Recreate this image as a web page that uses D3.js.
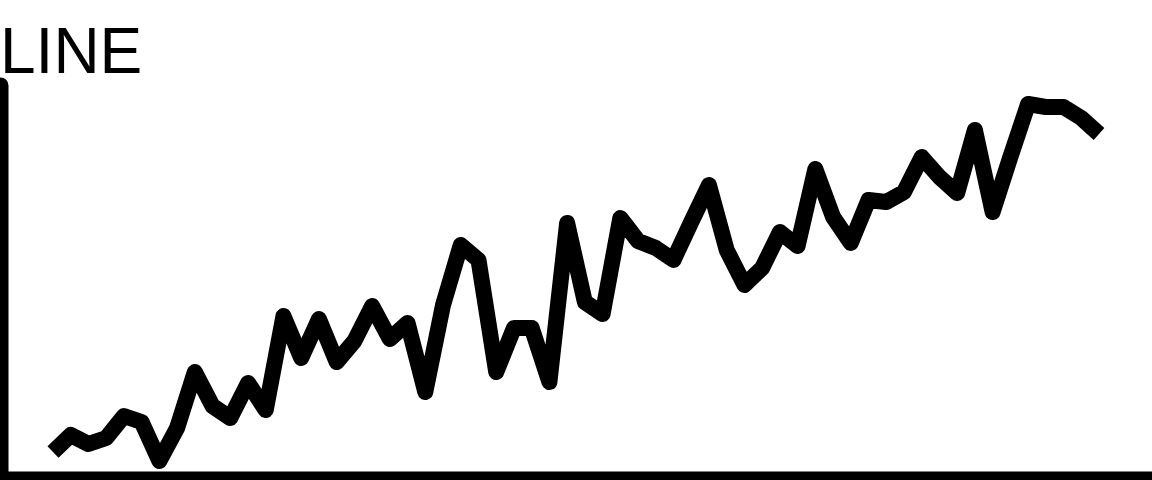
<!DOCTYPE html>
<html>
<head>
<meta charset="utf-8">
<script src="https://cdn.jsdelivr.net/npm/d3@7"></script>
<style>
  html, body { margin: 0; padding: 0; background: #fff; overflow: hidden; }
  svg { display: block; }
</style>
</head>
<body>
<svg id="chart" width="1152" height="480"></svg>
<script>
const title = "LINE";
const categories = d3.range(1, 61);
const values = [
  5, 9.25, 7, 8.5, 14, 12.5, 2.75, 11, 25, 16.5,
  13.5, 22.25, 15.5, 39, 28.5, 38.25, 27.5, 32.75, 41.5, 33.25,
  37.25, 20, 41.75, 56.75, 53, 25, 36, 36, 22.5, 62.25,
  42.5, 39.5, 63.5, 57.75, 56, 53, 62.5, 71.75, 55.5, 46.75,
  51, 60, 56.5, 75.75, 63.75, 57.25, 68, 67.5, 70, 78.75,
  73.75, 69.75, 85.5, 65, 78.75, 92, 91.25, 91.25, 88.5, 84.5
];

const svg = d3.select("#chart");

const x = d3.scalePoint().domain(categories).range([53, 1099]);
const y = d3.scaleLinear().domain([0, 100]).range([472, 72]);

// title
svg.append("text")
  .attr("x", 0)
  .attr("y", 73)
  .attr("font-family", "'Liberation Sans', Arial, sans-serif")
  .attr("font-size", 64)
  .attr("fill", "#000")
  .text(title);

// axes (no ticks, thick domain lines)
const yAxisG = svg.append("g");
yAxisG.call(d3.axisLeft(d3.scaleLinear().domain([0, 1]).range([479, 85])).tickValues([]).tickSizeOuter(0));
yAxisG.select(".domain")
  .attr("stroke", "#000")
  .attr("stroke-width", 16)
  .attr("stroke-linecap", "round");

const xAxisG = svg.append("g").attr("transform", "translate(0,479)");
xAxisG.call(d3.axisBottom(d3.scaleLinear().domain([0, 1]).range([0, 1152])).tickValues([]).tickSizeOuter(0));
xAxisG.select(".domain")
  .attr("stroke", "#000")
  .attr("stroke-width", 16);

// line
const line = d3.line()
  .x((d, i) => x(categories[i]))
  .y(d => y(d));

svg.append("path")
  .datum(values)
  .attr("d", line)
  .attr("fill", "none")
  .attr("stroke", "#000")
  .attr("stroke-width", 16)
  .attr("stroke-linejoin", "round")
  .attr("stroke-linecap", "butt");
</script>
</body>
</html>
